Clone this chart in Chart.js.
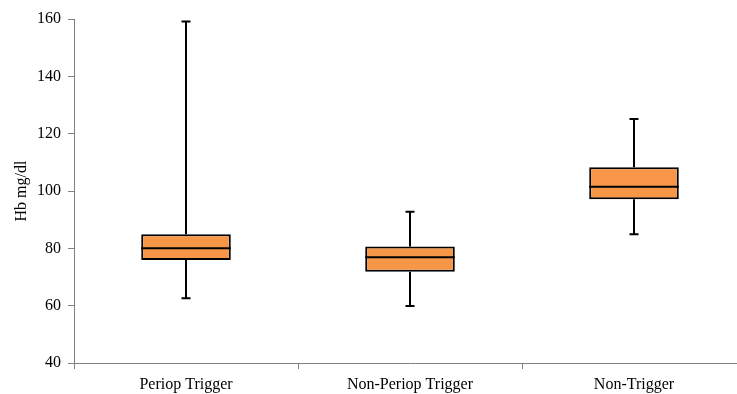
<!DOCTYPE html>
<html>
<head>
<meta charset="utf-8">
<script src="https://cdn.jsdelivr.net/npm/chart.js@4/dist/chart.umd.min.js"></script>
<style>
  html, body { margin:0; padding:0; background:#fff; overflow:hidden; }
  #wrap { width:750px; height:394px; }
</style>
</head>
<body>
<div id="wrap"><canvas id="c" width="750" height="394"></canvas></div>
<script>
// box plot values
const categories  = ['Periop Trigger', 'Non-Periop Trigger', 'Non-Trigger'];
const whiskerLow  = [62.6, 59.9, 84.9];
const q1          = [75.9, 71.8, 97.1];
const median      = [80.0, 76.9, 101.5];
const q3          = [84.9, 80.6, 108.3];
const whiskerHigh = [159.1, 92.8, 125.1];
const yTicks      = [40, 60, 80, 100, 120, 140, 160];

const FONT = 'Liberation Serif, Times New Roman, serif';

// whiskers + median line, drawn from the data through the scales
const boxExtras = {
  id: 'boxExtras',
  afterDatasetsDraw(chart){
    const ctx = chart.ctx;
    const y = chart.scales.y;
    const meta = chart.getDatasetMeta(0);
    ctx.save();
    ctx.strokeStyle = '#000';
    ctx.lineWidth = 2;
    meta.data.forEach((bar, i) => {
      const x = bar.x;
      const half = bar.width / 2;
      const yq1 = y.getPixelForValue(q1[i]);
      const yq3 = y.getPixelForValue(q3[i]);
      const ylo = y.getPixelForValue(whiskerLow[i]);
      const yhi = y.getPixelForValue(whiskerHigh[i]);
      const ymd = y.getPixelForValue(median[i]);
      ctx.beginPath();
      ctx.moveTo(x, yq3); ctx.lineTo(x, yhi);
      ctx.moveTo(x - 4.5, yhi); ctx.lineTo(x + 4.5, yhi);
      ctx.moveTo(x, yq1); ctx.lineTo(x, ylo);
      ctx.moveTo(x - 4.5, ylo); ctx.lineTo(x + 4.5, ylo);
      ctx.moveTo(x - half, ymd); ctx.lineTo(x + half, ymd);
      ctx.stroke();
    });
    ctx.restore();
  }
};

new Chart(document.getElementById('c'), {
  type: 'bar',
  data: {
    labels: categories,
    datasets: [{
      data: categories.map((_, i) => [q1[i], q3[i]]),
      backgroundColor: '#F79646',
      borderColor: '#000',
      borderWidth: 2,
      borderSkipped: false,
      categoryPercentage: 1,
      barPercentage: 0.4
    }]
  },
  options: {
    responsive: false,
    animation: false,
    layout: { padding: { top: 19, right: 4, left: 0, bottom: 0 } },
    plugins: { legend: { display:false }, tooltip: { enabled:false } },
    scales: {
      x: {
        grid: { drawOnChartArea:false, drawTicks:true, tickLength:6, color:'#808080', offset:true },
        border: { display:true, color:'#808080', width:1 },
        ticks: { color:'#000', font:{ family:FONT, size:16 }, padding:6 },
        afterFit(s){ s.height = 31; }
      },
      y: {
        min: 40, max: 160,
        afterBuildTicks(s){ s.ticks = yTicks.map(v => ({ value:v })); },
        grid: { drawOnChartArea:false, drawTicks:true, tickLength:6, color:'#808080' },
        border: { display:true, color:'#808080', width:1 },
        ticks: { color:'#000', font:{ family:FONT, size:16 }, padding:7 },
        title: { display:true, text:'Hb mg/dl', color:'#000', font:{ family:FONT, size:16 }, padding:{ top:12, bottom:0 } },
        afterFit(s){ s.width = 74; }
      }
    }
  },
  plugins: [boxExtras]
});
</script>
</body>
</html>
